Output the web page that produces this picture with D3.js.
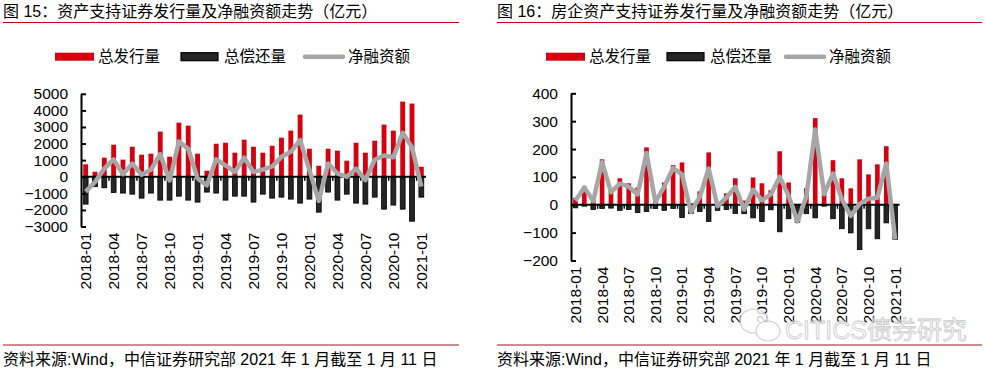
<!DOCTYPE html>
<html>
<head>
<meta charset="utf-8">
<script src="https://cdn.jsdelivr.net/npm/d3@7"></script>
<style>
  body { margin: 0; background: #fff; }
  svg text { font-family: "Liberation Sans", Arial, "Noto Sans CJK SC", sans-serif; }
</style>
</head>
<body>
<div id="chart"></div>
<script>
// month categories, 2018-01 .. 2021-01
const months = ["2018-01","2018-02","2018-03","2018-04","2018-05","2018-06","2018-07","2018-08","2018-09",
  "2018-10","2018-11","2018-12","2019-01","2019-02","2019-03","2019-04","2019-05","2019-06","2019-07",
  "2019-08","2019-09","2019-10","2019-11","2019-12","2020-01","2020-02","2020-03","2020-04","2020-05",
  "2020-06","2020-07","2020-08","2020-09","2020-10","2020-11","2020-12","2021-01"];
const tickLabels = ["2018-01","2018-04","2018-07","2018-10","2019-01","2019-04","2019-07","2019-10",
  "2020-01","2020-04","2020-07","2020-10","2021-01"];

// 图15 资产支持证券 (亿元)
const absIssue = [750, 300, 1150, 1930, 1030, 1810, 1330, 1390, 2720, 1210, 3260, 3080, 1390, 360, 1990,
  2050, 1450, 2235, 1810, 1450, 1870, 2355, 2780, 3745, 1690, 665, 1690, 1570, 965, 2050, 1450, 2175,
  3140, 2780, 4530, 4410, 600];
const absRepay = [-1650, -600, -665, -945, -985, -1050, -1290, -985, -1410, -1410, -1170, -1410, -1530,
  -925, -985, -1410, -1170, -1170, -1530, -1050, -1290, -1230, -1350, -1590, -1350, -2135, -925, -1410,
  -1050, -1590, -1650, -1230, -1955, -1710, -1955, -2680, -1230];
const absNet = [-900, -320, 490, 1050, 150, 790, 120, 430, 1360, -220, 2130, 1690, -100, -520, 1050, 680,
  290, 1150, 290, 430, 620, 1200, 1500, 2210, 400, -1460, 800, 190, 0, 480, -200, 1020, 1280, 1170,
  2650, 1770, -590];

// 图16 房企资产支持证券 (亿元)
const reIssue = [25, 66, 30, 163, 55, 95, 77, 62, 206, 25, 80, 142, 152, 5, 48, 188, 10, 41, 95, 15, 98,
  77, 52, 192, 80, 3, 59, 311, 40, 160, 95, 59, 163, 109, 145, 210, 0];
const reRepay = [-11, -5, -17, -13, -12, -20, -17, -28, -24, -13, -20, -13, -46, -31, -24, -60, -20, -17,
  -31, -32, -47, -60, -18, -97, -50, -63, -32, -47, -5, -50, -86, -101, -161, -86, -122, -65, -125];
const reNet = [14, 62, 13, 153, 45, 76, 65, 37, 186, 10, 65, 132, 109, -25, 28, 130, -5, 26, 64, -17, 54,
  16, 37, 100, 32, -60, 30, 270, 38, 112, 20, -40, 3, 22, 25, 148, -125];

const seriesNames = ["总发行量", "总偿还量", "净融资额"];

const svg = d3.select("#chart").append("svg")
    .attr("width", 985)
    .attr("height", 373);

function drawPanel(cfg) {
    const g = svg.append("g");

    // title + red underline
    g.append("text")
        .attr("x", cfg.left)
        .attr("y", 17)
        .style("font-size", "16px")
        .attr("fill", "#000")
        .text(cfg.title);
    g.append("line")
        .attr("x1", cfg.left).attr("x2", cfg.right)
        .attr("y1", 22.5).attr("y2", 22.5)
        .attr("stroke", "#c00000").attr("stroke-width", 1.2);

    const x = d3.scaleBand()
        .domain(months)
        .range(cfg.xRange)
        .paddingInner(0.48)
        .paddingOuter(0.24);

    const y = d3.scaleLinear()
        .domain(cfg.yDomain)
        .range(cfg.yRange);

    // bars
    g.selectAll(".issue")
        .data(cfg.issue)
        .enter().append("rect")
        .attr("class", "issue")
        .attr("x", (d, i) => x(months[i]))
        .attr("width", x.bandwidth())
        .attr("y", d => y(d))
        .attr("height", d => y(0) - y(d))
        .attr("fill", "#d7000f");

    g.selectAll(".repay")
        .data(cfg.repay)
        .enter().append("rect")
        .attr("class", "repay")
        .attr("x", (d, i) => x(months[i]))
        .attr("width", x.bandwidth())
        .attr("y", y(0))
        .attr("height", d => y(d) - y(0))
        .attr("fill", "#262626")
        .attr("stroke", "#000")
        .attr("stroke-width", 0.8);

    // zero line with small ticks every 3 months
    g.append("line")
        .attr("x1", cfg.xRange[0]).attr("x2", cfg.xRange[1])
        .attr("y1", y(0)).attr("y2", y(0))
        .attr("stroke", "#000").attr("stroke-width", 2);
    const step = x.step();
    g.selectAll(".zt")
        .data(months.filter((m, i) => i % 3 === 2))
        .enter().append("line")
        .attr("x1", d => x(d) + x.bandwidth() / 2 + step / 2)
        .attr("x2", d => x(d) + x.bandwidth() / 2 + step / 2)
        .attr("y1", y(0)).attr("y2", y(0) + 4)
        .attr("stroke", "#000").attr("stroke-width", 1.5);

    // net line
    const line = d3.line()
        .x((d, i) => x(months[i]) + x.bandwidth() / 2)
        .y(d => y(d));
    g.append("path")
        .datum(cfg.net)
        .attr("d", line)
        .attr("fill", "none")
        .attr("stroke", "#a6a6a6")
        .attr("stroke-width", 4.5)
        .attr("stroke-linejoin", "round");

    // y axis
    const yAxis = d3.axisLeft(y)
        .tickValues(d3.range(cfg.yDomain[0], cfg.yDomain[1] + 1, cfg.yStep))
        .tickFormat(d3.format("d"))
        .tickSizeInner(-5)
        .tickSizeOuter(0)
        .tickPadding(13);
    const ya = g.append("g")
        .attr("transform", `translate(${cfg.xRange[0]},0)`)
        .call(yAxis);
    ya.select(".domain").attr("stroke-width", 2);
    ya.selectAll(".tick line").attr("stroke-width", 2);
    ya.selectAll("text")
        .style("font-size", "15.5px")
        .style("font-family", "'Liberation Sans', Arial, sans-serif")
        .attr("fill", "#000");

    // x labels (rotated)
    const xAxis = d3.axisBottom(x)
        .tickValues(tickLabels)
        .tickSize(0);
    const xa = g.append("g")
        .attr("transform", `translate(0,${cfg.yRange[0]})`)
        .call(xAxis);
    xa.select(".domain").remove();
    xa.selectAll("text")
        .style("font-size", "15.5px")
        .style("font-family", "'Liberation Sans', Arial, sans-serif")
        .attr("fill", "#000")
        .style("text-anchor", "end")
        .attr("transform", "rotate(-90)")
        .attr("x", -cfg.labelGap)
        .attr("y", 0)
        .attr("dy", "0.35em");

    // legend
    const ly = 56.7;
    const lg = g.append("g");
    lg.append("rect")
        .attr("x", cfg.legX[0]).attr("y", ly - 4).attr("width", 39).attr("height", 8)
        .attr("fill", "#d7000f");
    lg.append("rect")
        .attr("x", cfg.legX[1]).attr("y", ly - 4).attr("width", 37).attr("height", 8)
        .attr("fill", "#262626").attr("stroke", "#000").attr("stroke-width", 1.2);
    lg.append("line")
        .attr("x1", cfg.legX[2] + 2).attr("x2", cfg.legX[2] + 40)
        .attr("y1", ly).attr("y2", ly)
        .attr("stroke", "#a6a6a6").attr("stroke-width", 4.5).attr("stroke-linecap", "round");
    seriesNames.forEach((name, i) => {
        lg.append("text")
            .attr("x", cfg.legX[i] + (i === 2 ? 45 : 43))
            .attr("y", ly)
            .attr("dy", "0.36em")
            .style("font-size", "15.5px")
            .attr("fill", "#000")
            .text(name);
    });

    // source note
    g.append("line")
        .attr("x1", cfg.left).attr("x2", cfg.right)
        .attr("y1", 345).attr("y2", 345)
        .attr("stroke", "#a01c1c").attr("stroke-width", 1.2);
    g.append("text")
        .attr("x", cfg.left)
        .attr("y", 365)
        .style("font-size", "16px")
        .attr("fill", "#000")
        .text("资料来源:Wind，中信证券研究部  2021 年 1 月截至 1 月 11 日");
}

drawPanel({
    title: "图 15：资产支持证券发行量及净融资额走势（亿元）",
    left: 3, right: 459,
    xRange: [81, 426],
    yDomain: [-3000, 5000], yStep: 1000,
    yRange: [226.5, 93.8],
    labelGap: 6,
    issue: absIssue, repay: absRepay, net: absNet,
    legX: [55, 181, 303]
});

drawPanel({
    title: "图 16：房企资产支持证券发行量及净融资额走势（亿元）",
    left: 497, right: 982,
    xRange: [571, 899.6],
    yDomain: [-200, 400], yStep: 100,
    yRange: [260.5, 93.3],
    labelGap: 6,
    issue: reIssue, repay: reRepay, net: reNet,
    legX: [546, 667, 784]
});

// watermark
const wm = svg.append("g").attr("opacity", 0.8);
wm.append("ellipse").attr("cx", 754).attr("cy", 321).attr("rx", 14).attr("ry", 12)
    .attr("fill", "#fff").attr("stroke", "#c8c8c8").attr("stroke-width", 1.2);
wm.append("ellipse").attr("cx", 768).attr("cy", 331).attr("rx", 12).attr("ry", 10)
    .attr("fill", "#fff").attr("stroke", "#c8c8c8").attr("stroke-width", 1.2);
wm.append("text")
    .attr("x", 785)
    .attr("y", 339)
    .style("font-size", "25px")
    .attr("fill", "#fafafa")
    .attr("stroke", "#bdbdbd")
    .attr("stroke-width", 0.8)
    .text("CITICS债券研究");
</script>
</body>
</html>
